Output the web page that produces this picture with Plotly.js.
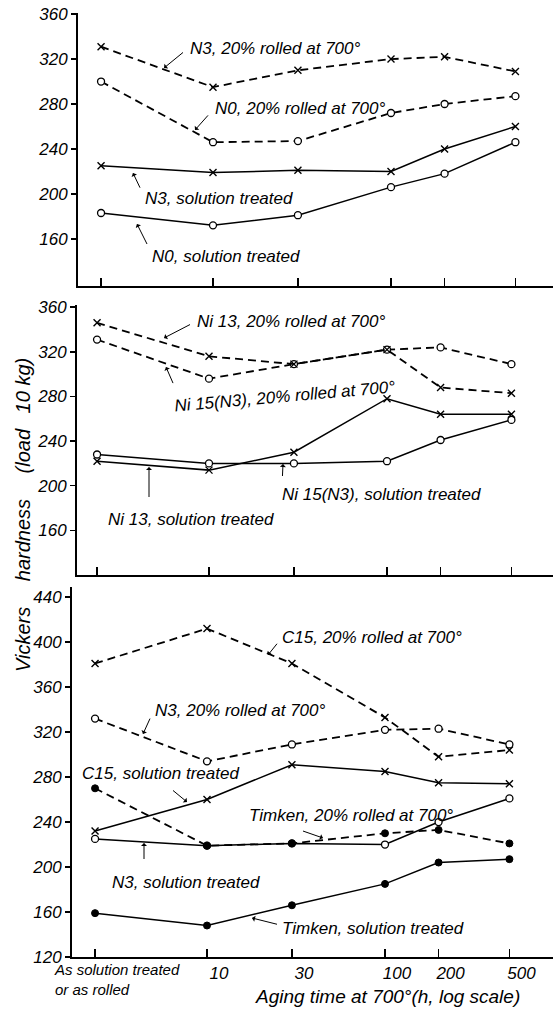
<!DOCTYPE html>
<html>
<head>
<meta charset="utf-8">
<script src="https://cdn.plot.ly/plotly-3.0.1.min.js"></script>
<style>html,body{margin:0;padding:0;background:#fff;}#chart{width:553px;height:1009px;}</style>
</head>
<body>
<div id="chart"></div>
<script>
// ---- data (hours; first position = "as solution treated / as rolled") ----
const times = [2.35, 10, 30, 100, 200, 500];
const tickTimes = [10, 30, 100, 200, 500];
const tickTimeLabels = ["10", "30", "100", "200", "500"];

// Panel 1
const p1_N3_rolled = [331, 295, 310, 320, 322, 309];
const p1_N0_rolled = [300, 246, 247, 272, 280, 287];
const p1_N3_sol    = [225, 219, 221, 220, 240, 260];
const p1_N0_sol    = [183, 172, 181, 206, 218, 246];

// Panel 2
const p2_Ni13_rolled = [346, 316, 309, 322, 288, 283];
const p2_Ni15_rolled = [331, 296, 309, 322, 324, 309];
const p2_Ni13_sol    = [222, 214, 230, 278, 264, 264];
const p2_Ni15_sol    = [228, 220, 220, 222, 241, 259];

// Panel 3
const p3_C15_rolled    = [381, 412, 381, 333, 298, 304];
const p3_N3_rolled     = [332, 294, 309, 322, 323, 309];
const p3_C15_sol       = [232, 260, 291, 285, 275, 274];
const p3_Timken_rolled = [270, 219, 221, 230, 233, 221];
const p3_N3_sol        = [225, 219, 221, 220, 240, 261];
const p3_Timken_sol    = [159, 148, 166, 185, 204, 207];

const yTicks12 = [160, 200, 240, 280, 320, 360];
const yTicks3  = [120, 160, 200, 240, 280, 320, 360, 400, 440];

// ---- styling ----
const W = 553, H = 1009;
const FONT = "Liberation Sans, Arial, sans-serif";
const DASH = "8px,5px";

function series(y, xa, ya, dashed, kind) {
  let marker;
  if (kind === "x") marker = {symbol: "x-thin-open", size: 7, color: "#000", line: {color: "#000", width: 1.4}};
  else if (kind === "o") marker = {symbol: "circle", size: 7, color: "#fff", line: {color: "#000", width: 1.3}};
  else marker = {symbol: "circle", size: 7, color: "#000", line: {color: "#000", width: 1}};
  return {
    x: times, y: y, xaxis: xa, yaxis: ya, type: "scatter", mode: "lines+markers",
    line: {color: "#000", width: dashed ? 1.8 : 1.5, dash: dashed ? DASH : "solid"},
    marker: marker, cliponaxis: false, showlegend: false, hoverinfo: "skip"
  };
}

const traces = [
  series(p1_N3_rolled, "x", "y", true, "x"),
  series(p1_N0_rolled, "x", "y", true, "o"),
  series(p1_N3_sol, "x", "y", false, "x"),
  series(p1_N0_sol, "x", "y", false, "o"),

  series(p2_Ni15_rolled, "x2", "y2", true, "o"),
  series(p2_Ni13_rolled, "x2", "y2", true, "x"),
  series(p2_Ni15_sol, "x2", "y2", false, "o"),
  series(p2_Ni13_sol, "x2", "y2", false, "x"),

  series(p3_C15_rolled, "x3", "y3", true, "x"),
  series(p3_N3_rolled, "x3", "y3", true, "o"),
  series(p3_C15_sol, "x3", "y3", false, "x"),
  series(p3_N3_sol, "x3", "y3", false, "o"),
  series(p3_Timken_rolled, "x3", "y3", true, "dot"),
  series(p3_Timken_sol, "x3", "y3", false, "dot")
];

function xAxis(leftPx, leftLog, showLabels) {
  const widthPx = W - leftPx;
  return {
    type: "log", domain: [leftPx / W, 1],
    range: [leftLog, leftLog + widthPx / 178],
    showgrid: false, zeroline: false, showline: true, linecolor: "#000", linewidth: 2,
    ticks: "inside", ticklen: 8, tickwidth: 1.5, tickcolor: "#000",
    tickvals: [times[0]].concat(tickTimes),
    ticktext: showLabels ? [""].concat(tickTimeLabels) : ["", "", "", "", "", ""],
    ticklabelshift: 12, ticklabelstandoff: 0,
    tickfont: {family: FONT, size: 17, style: "italic", color: "#000"},
    fixedrange: true
  };
}
function yAxis(botPx, topPx, range, ticks, anchor) {
  return {
    domain: [1 - botPx / H, 1 - topPx / H], range: range, anchor: anchor,
    showgrid: false, zeroline: false, showline: true, linecolor: "#000", linewidth: 2,
    ticks: "outside", ticklen: 5, tickwidth: 1.5, tickcolor: "#000",
    tickvals: ticks, ticklabelstandoff: 0,
    tickfont: {family: FONT, size: 17, style: "italic", color: "#000"},
    fixedrange: true
  };
}

// pixel -> paper helpers for annotation placement
const px = v => v / W, py = v => 1 - v / H;
function label(text, xl, yc, angle) {
  return {xref: "paper", yref: "paper", x: px(xl), y: py(yc), xanchor: "left", yanchor: "middle",
    text: text, showarrow: false, textangle: angle || 0,
    font: {family: FONT, size: 17, style: "italic", color: "#000"}};
}
function arrow(x0, y0, x1, y1) {
  return {xref: "paper", yref: "paper", x: px(x1), y: py(y1), ax: x0 - x1, ay: y0 - y1,
    axref: "pixel", ayref: "pixel", text: " ", showarrow: true,
    arrowhead: 1, arrowsize: 1, arrowwidth: 1, arrowcolor: "#000", standoff: 0, startstandoff: 0};
}

const annotations = [
  // panel 1
  label("N3, 20% rolled at 700°", 188, 48), arrow(186, 50, 164, 68),
  label("N0, 20% rolled at 700°", 213, 108), arrow(211, 112, 195, 130),
  label("N3, solution treated", 143, 198), arrow(143, 194, 133, 173),
  label("N0, solution treated", 150, 256), arrow(150, 250, 137, 224),
  // panel 2
  label("Ni 13, 20% rolled at 700°", 195, 321), arrow(193, 323, 164, 338),
  label("Ni 15(N3), 20% rolled at 700°", 171, 396, -5), arrow(176, 390, 166, 367),
  label("Ni 15(N3), solution treated", 280, 494), arrow(282, 486, 283, 464),
  label("Ni 13, solution treated", 106, 519), arrow(149, 507, 149, 467),
  // panel 3
  label("C15, 20% rolled at 700°", 280, 637), arrow(280, 640, 268, 655),
  label("N3, 20% rolled at 700°", 153, 710), arrow(153, 712, 143, 734),
  label("C15, solution treated", 80, 773), arrow(170, 788, 187, 802),
  label("Timken, 20% rolled at 700°", 247, 815), arrow(300, 830, 323, 838),
  label("N3, solution treated", 110, 882), arrow(144, 869, 144, 843),
  label("Timken, solution treated", 280, 928), arrow(280, 925, 252, 918),
  // axis texts
  {xref: "paper", yref: "paper", x: px(52), y: py(979), xanchor: "left", yanchor: "middle", align: "left",
   text: "As solution treated<br>or as rolled", showarrow: false,
   font: {family: FONT, size: 15, style: "italic", color: "#000"}},
  {xref: "paper", yref: "paper", x: px(388), y: py(996), xanchor: "center", yanchor: "middle",
   text: "Aging time at 700°(h, log scale)", showarrow: false,
   font: {family: FONT, size: 19, style: "italic", color: "#000"}},
  {xref: "paper", yref: "paper", x: px(23), y: py(515), xanchor: "center", yanchor: "middle",
   text: "Vickers\u2003 hardness\u2003 (load\u2002 10 kg)", showarrow: false, textangle: -90,
   font: {family: FONT, size: 20, style: "italic", color: "#000"}}
];

const layout = {
  width: W, height: H, margin: {l: 0, r: 0, t: 0, b: 0},
  paper_bgcolor: "#fff", plot_bgcolor: "rgba(0,0,0,0)",
  showlegend: false,
  xaxis: Object.assign(xAxis(78, 0.2416, false), {anchor: "y"}),
  yaxis: yAxis(286, 13, [118, 361], yTicks12, "x"),
  xaxis2: Object.assign(xAxis(77, 0.2584, false), {anchor: "y2"}),
  yaxis2: yAxis(575, 305, [120, 362], yTicks12, "x2"),
  xaxis3: Object.assign(xAxis(72, 0.2416, true), {anchor: "y3"}),
  yaxis3: yAxis(957, 587, [120, 449], yTicks3, "x3"),
  annotations: annotations
};

Plotly.newPlot("chart", traces, layout, {staticPlot: true, displayModeBar: false});
</script>
</body>
</html>
